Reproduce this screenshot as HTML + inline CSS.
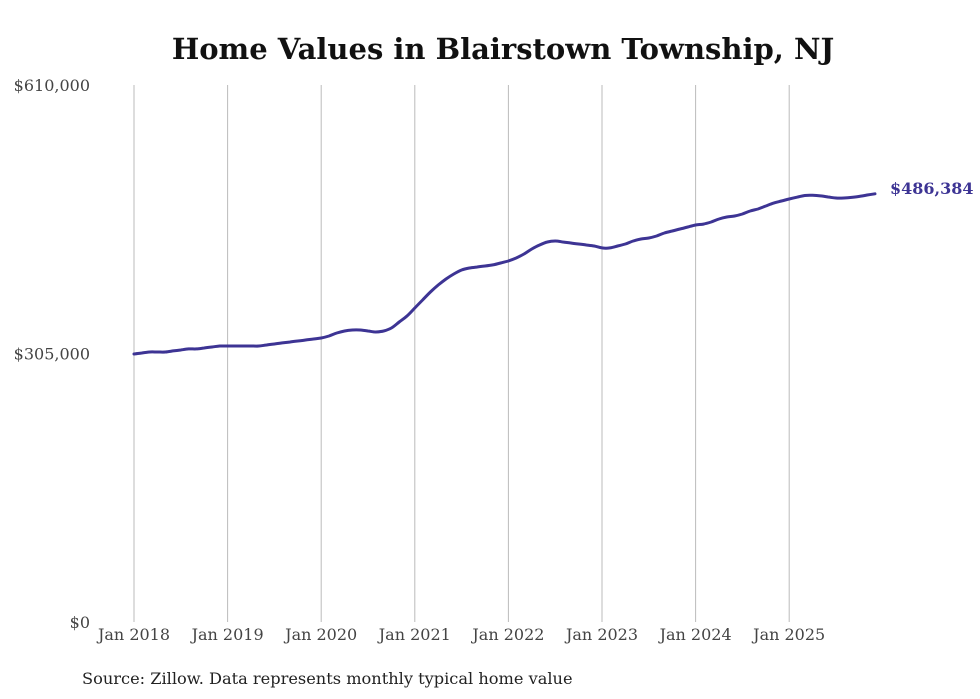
<!DOCTYPE html>
<html><head><meta charset="utf-8"><style>
body{margin:0;background:#fff;}
svg{display:block;font-family:"DejaVu Serif","Liberation Serif",serif;}
</style></head><body>
<svg id="chart" width="980" height="699">
<text x="503" y="59" text-anchor="middle" font-size="29" font-weight="bold" fill="#111">Home Values in Blairstown Township, NJ</text>
<g id="grid"></g><g id="yaxis"></g><g id="xaxis"></g><g id="series"></g>
<text x="82" y="684" font-size="16.2" fill="#222">Source: Zillow. Data represents monthly typical home value</text>
</svg>
<script>
const xTickLabels=["Jan 2018","Jan 2019","Jan 2020","Jan 2021","Jan 2022","Jan 2023","Jan 2024","Jan 2025"];
const yTickValues=[0,305000,610000];
const yTickLabels=["$0","$305,000","$610,000"];
const values=[
304.4,305.6,306.7,306.7,306.7,307.9,309.0,310.2,310.2,311.3,312.4,313.5,
313.5,313.5,313.5,313.5,313.5,314.7,315.8,317.0,318.1,319.2,320.3,321.5,
322.6,324.9,328.3,330.6,331.7,331.7,330.6,329.4,330.6,334.0,340.8,347.6,
356.7,365.8,374.9,382.8,389.6,395.3,399.9,402.1,403.3,404.4,405.6,407.8,
410.1,413.5,418.0,423.7,428.3,431.7,432.8,431.7,430.5,429.4,428.3,427.1,
424.9,424.9,427.1,429.4,432.8,435.1,436.2,438.5,441.9,444.2,446.4,448.7,
451.0,452.0,454.4,457.8,460.1,461.2,463.5,466.9,469.2,472.6,475.9,478.2,
480.5,482.5,484.5,484.7,484.0,482.8,481.6,481.6,482.3,483.5,485.0,486.4
].map(v=>v*1000);
const lastLabel="$486,384";
const NS="http://www.w3.org/2000/svg";
const x0=134,yearW=93.6,yBase=622,yTop=85,maxV=610000;
const xScale=m=>x0+m*yearW/12;
const yScale=v=>yBase-(v/maxV)*(yBase-yTop);
function mk(tag,attrs,parent){const e=document.createElementNS(NS,tag);for(const k in attrs)e.setAttribute(k,attrs[k]);parent.appendChild(e);return e;}
const grid=document.getElementById('grid'),xa=document.getElementById('xaxis'),ya=document.getElementById('yaxis'),ser=document.getElementById('series');
xTickLabels.forEach((l,i)=>{
 const x=xScale(i*12);
 const ln=mk('line',{x1:x,x2:x,y1:yTop,y2:yBase,stroke:'#bbb','stroke-width':1},grid);
 
 
 const t=mk('text',{x:x,y:640,'text-anchor':'middle','font-size':16,fill:'#444'},xa);
 t.textContent=l;
 
 
});
yTickValues.forEach((v,i)=>{
 const t=mk('text',{x:90,y:yScale(v)+6,'text-anchor':'end','font-size':16,fill:'#444'},ya);
 t.textContent=yTickLabels[i];
 
 
});
let d='';
const pts=values.map((v,i)=>[xScale(i),yScale(v)]);
d='M'+pts[0][0].toFixed(1)+','+pts[0][1].toFixed(1);
for(let i=0;i<pts.length-1;i++){
 const p0=pts[i-1]||pts[i],p1=pts[i],p2=pts[i+1],p3=pts[i+2]||p2;
 const c1=[p1[0]+(p2[0]-p0[0])/6,p1[1]+(p2[1]-p0[1])/6],c2=[p2[0]-(p3[0]-p1[0])/6,p2[1]-(p3[1]-p1[1])/6];
 d+=' C'+c1.map(n=>n.toFixed(1)).join(',')+' '+c2.map(n=>n.toFixed(1)).join(',')+' '+p2.map(n=>n.toFixed(1)).join(',');
}
const p=mk('path',{d:d,fill:'none',stroke:'#3d3494','stroke-width':3,'stroke-linejoin':'round','stroke-linecap':'round'},ser);


const li=values.length-1;
const lt=mk('text',{x:xScale(li)+15,y:yScale(values[li])+0,'font-size':16,'font-weight':'bold',fill:'#3d3494'},ser);
lt.textContent=lastLabel;


</script>
</body></html>
